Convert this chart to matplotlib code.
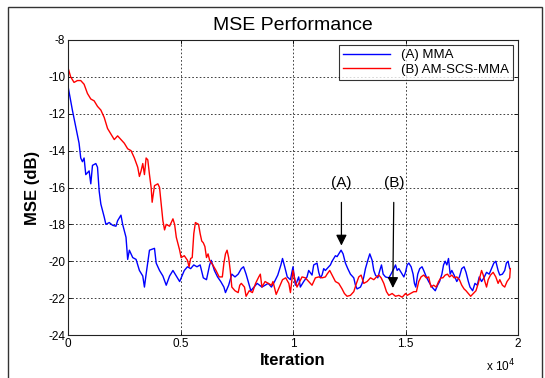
import matplotlib
matplotlib.use("Agg")
import matplotlib.pyplot as plt
from matplotlib.patches import Rectangle

plt.rcParams['font.family'] = ['Liberation Sans', 'DejaVu Sans']

# ---------------- data ----------------
mma_iter = [0, 194, 343, 492, 566, 641, 715, 790, 939, 1013, 1088, 1237, 1311, 1386, 1460,
            1609, 1684, 1833, 1982, 2131, 2205, 2354, 2429, 2578, 2652, 2727, 2876, 3025,
            3174, 3323, 3397, 3472, 3621, 3844, 3919, 4068, 4217, 4366, 4515, 4664, 4813,
            4962, 5169, 5310, 5451, 5591, 5732, 5873, 6014, 6155, 6295, 6366, 6507, 6647,
            6788, 6929, 6999, 7140, 7281, 7422, 7563, 7703, 7802, 7915, 7985, 8126, 8267,
            8407, 8619, 8759, 8900, 9041, 9182, 9323, 9463, 9534, 9632, 9745, 9886,
            10000, 10104, 10178, 10252, 10326, 10475, 10623, 10697, 10846, 10920, 11068,
            11143, 11217, 11291, 11365, 11439, 11588, 11662, 11736, 11810, 11885, 11959,
            12033, 12137, 12226, 12330, 12434, 12552, 12701, 12775, 12849, 12998, 13072,
            13146, 13220, 13324, 13413, 13517, 13591, 13665, 13769, 13858, 13933, 14007,
            14111, 14259, 14333, 14482, 14556, 14630, 14704, 14853, 14927,
            15000, 15074, 15147, 15250, 15338, 15397, 15456, 15544, 15632, 15735, 15809,
            15926, 16029, 16176, 16323, 16426, 16514, 16617, 16691, 16764, 16838, 16911,
            16985, 17058, 17161, 17279, 17396, 17499, 17602, 17690, 17793, 17867, 17984,
            18087, 18190, 18278, 18381, 18484, 18602, 18719, 18822, 18925, 19013, 19116,
            19190, 19307, 19410, 19484, 19557, 19631]
mma_mse = [-10.5, -11.8, -12.7, -13.6, -14.4, -14.6, -14.4, -15.3, -15.1, -15.8, -14.8, -14.7,
           -14.9, -16.2, -16.9, -17.6, -18.0, -17.9, -18.05, -18.1, -17.8, -17.5, -18.0, -18.7,
           -19.9, -19.4, -19.8, -19.9, -20.5, -20.8, -21.4, -20.7, -19.4, -19.3, -20.1, -20.5,
           -20.8, -21.3, -20.8, -20.5, -20.8, -21.1, -20.5, -20.3, -20.4, -20.2, -20.3, -20.2,
           -20.9, -21.0, -20.2, -19.95, -20.5, -20.85, -21.1, -21.4, -21.7, -21.3, -20.7,
           -20.85, -20.7, -20.4, -20.3, -20.7, -21.0, -21.6, -21.4, -21.2, -21.4, -21.3,
           -21.2, -21.4, -21.1, -20.75, -20.2, -19.85, -20.3, -20.85, -21.0,
           -20.3, -21.3, -21.1, -20.85, -21.4, -21.1, -20.85, -20.5, -20.75, -20.2, -20.1,
           -20.6, -20.9, -20.75, -20.4, -20.5, -20.3, -20.2, -20.0, -19.85, -19.7, -19.75,
           -19.6, -19.4, -19.6, -20.1, -20.4, -20.7, -20.9, -21.3, -21.5, -21.4, -21.2,
           -20.85, -20.4, -19.95, -19.6, -19.95, -20.5, -20.75, -20.9, -20.5, -20.2, -20.7,
           -20.85, -20.9, -20.75, -20.4, -20.2, -20.5, -20.4, -20.7, -20.85,
           -20.6, -20.2, -20.1, -20.3, -20.7, -21.2, -21.4, -20.7, -20.4, -20.3, -20.5,
           -20.85, -21.1, -21.4, -21.6, -21.3, -21.1, -20.7, -20.2, -20.0, -20.2, -19.85,
           -20.7, -20.5, -20.75, -21.1, -20.85, -20.4, -20.3, -20.6, -21.1, -21.4, -21.6,
           -21.2, -21.3, -20.85, -21.1, -20.9, -20.6, -20.7, -20.4, -20.1, -20.0, -20.5,
           -20.75, -20.7, -20.5, -20.1, -20.0, -20.4]

scs_iter = [0, 119, 268, 417, 566, 715, 864, 1013, 1162, 1311, 1460, 1609, 1758, 1907, 2056,
            2205, 2354, 2503, 2652, 2801, 2950, 3099, 3174, 3248, 3323, 3397, 3472, 3546,
            3621, 3695, 3740, 3844, 3993, 4068, 4142, 4217, 4291, 4366, 4515, 4664, 4738,
            4813, 4962, 5028, 5169, 5310, 5380, 5451, 5521, 5591, 5662, 5803, 5873, 5943,
            6014, 6084, 6155, 6225, 6295, 6436, 6577, 6718, 6859, 6929, 6999, 7070, 7140,
            7211, 7281, 7422, 7563, 7633, 7703, 7844, 7915, 8055, 8196, 8337, 8478, 8548,
            8619, 8759, 8900, 9041, 9111, 9252, 9393, 9534, 9675, 9815, 9886,
            10000, 10104, 10178, 10297, 10401, 10549, 10697, 10846, 10994, 11143, 11291,
            11439, 11514, 11632, 11736, 11885, 12033, 12181, 12285, 12404, 12552, 12701,
            12820, 12923, 13027, 13146, 13294, 13443, 13591, 13710, 13814, 13918, 14036,
            14155, 14259, 14407, 14556, 14704, 14853, 15001,
            15074, 15221, 15368, 15485, 15588, 15691, 15809, 15926, 16029, 16132, 16250,
            16367, 16470, 16573, 16661, 16764, 16867, 16955, 17058, 17161, 17279, 17396,
            17499, 17602, 17690, 17793, 17896, 18014, 18131, 18234, 18308, 18381, 18455,
            18528, 18602, 18675, 18778, 18896, 19013, 19116, 19190, 19307, 19410, 19513,
            19631, 19660]
scs_mse = [-9.5, -10.0, -10.3, -10.2, -10.2, -10.4, -10.9, -11.2, -11.3, -11.6, -11.8, -12.2,
           -12.8, -13.1, -13.4, -13.2, -13.4, -13.6, -13.9, -14.0, -14.4, -14.9, -15.4, -15.1,
           -14.7, -15.3, -14.4, -14.5, -15.3, -16.0, -16.8, -15.9, -15.8, -16.0, -16.9, -17.8,
           -18.3, -18.0, -18.1, -17.7, -18.0, -18.7, -19.4, -19.8, -19.7, -19.95, -20.3,
           -19.85, -19.8, -18.5, -17.9, -18.0, -18.5, -18.9, -19.0, -19.2, -19.8, -19.6,
           -19.95, -20.2, -20.5, -20.85, -20.85, -20.1, -19.6, -19.4, -19.8, -20.5, -21.4,
           -21.6, -21.7, -21.3, -21.2, -21.4, -21.9, -21.6, -21.7, -21.2, -20.85, -20.7,
           -21.4, -21.1, -21.2, -21.3, -21.1, -21.8, -21.4, -21.0, -20.9, -21.2, -21.7,
           -20.5, -21.1, -21.4, -21.1, -20.85, -20.9, -21.1, -21.3, -20.9, -20.85, -20.9,
           -20.85, -20.7, -20.5, -20.75, -21.1, -21.2, -21.5, -21.75, -21.9, -21.85, -21.65,
           -21.2, -20.85, -20.75, -21.2, -21.1, -20.9, -21.0, -20.85, -20.75, -20.9, -21.2,
           -21.65, -21.85, -21.75, -21.9, -21.85, -21.95, -21.75,
           -21.85, -21.75, -21.65, -21.65, -21.1, -20.85, -20.75, -20.9, -20.85, -21.4,
           -21.3, -21.4, -21.1, -20.9, -20.9, -20.75, -20.7, -20.85, -20.75, -20.9, -20.85,
           -21.0, -21.3, -21.5, -21.6, -21.75, -21.9, -21.75, -21.6, -21.2, -20.85, -20.5,
           -20.75, -21.1, -21.4, -21.0, -20.75, -20.6, -20.85, -21.2, -21.0, -21.3, -21.4,
           -21.1, -20.9, -20.4]

series_labels = ['(A) MMA', '(B) AM-SCS-MMA']
y_ticks = [-24, -22, -20, -18, -16, -14, -12, -10, -8]
x_ticks = [0, 5000, 10000, 15000, 20000]
x_tick_labels = ['0', '0.5', '1', '1.5', '2']
arrow_a = (12152, -19.15)
arrow_b = (14437, -21.45)

# ---------------- figure ----------------
W, H = 545, 378
fig = plt.figure(figsize=(W / 100, H / 100), dpi=100)
fig.patch.set_facecolor('white')

# outer frame
fig.patches.append(Rectangle((8 / W, -0.05), (542 - 8) / W, 1 - 7 / H + 0.05,
                             transform=fig.transFigure, fill=False,
                             edgecolor='#333333', linewidth=1.0))

ax = fig.add_axes([68 / W, 1 - 335 / H, (518 - 68) / W, (335 - 40) / H])

ax.plot(mma_iter, mma_mse, color='#0000ff', linewidth=1.0, label=series_labels[0])
ax.plot(scs_iter, scs_mse, color='#ff0000', linewidth=1.0, label=series_labels[1])

ax.set_xlim(0, 20000)
ax.set_ylim(-24, -8)
ax.set_xticks(x_ticks)
ax.set_xticklabels(x_tick_labels)
ax.set_yticks(y_ticks)
ax.set_yticklabels([str(v) for v in y_ticks])
ax.tick_params(direction='in', length=3, width=0.6, labelsize=8.5, pad=2,
               top=True, right=True, colors='black')
ax.grid(True, linestyle=(0, (2, 2.5)), color='#222222', linewidth=0.6)
for s in ax.spines.values():
    s.set_linewidth(0.8)
    s.set_color('#222222')

ax.set_title('MSE Performance', fontsize=14, pad=7)
ax.set_xlabel('Iteration', fontsize=12, fontweight='bold', labelpad=2)
ax.set_ylabel('MSE (dB)', fontsize=12, fontweight='bold', labelpad=6)

fig.text(515 / W, 1 - 366 / H, r'x 10$^4$', fontsize=8.5, ha='right', va='center')

leg = ax.legend(loc='upper right', fontsize=9.5, frameon=True, fancybox=False,
                edgecolor='black', borderpad=0.3, handlelength=3.6, labelspacing=0.15,
                borderaxespad=0.4)
leg.get_frame().set_linewidth(0.8)

ax.annotate('(A)', xy=arrow_a, xytext=(arrow_a[0], -15.75), fontsize=11,
            ha='center', va='center',
            arrowprops=dict(arrowstyle='-|>', color='black', lw=0.9,
                            mutation_scale=16, shrinkA=7, shrinkB=0))
ax.annotate('(B)', xy=arrow_b, xytext=(arrow_b[0] + 50, -15.75), fontsize=11,
            ha='center', va='center',
            arrowprops=dict(arrowstyle='-|>', color='black', lw=0.9,
                            mutation_scale=16, shrinkA=7, shrinkB=0))

fig.savefig('out.png', dpi=100)
